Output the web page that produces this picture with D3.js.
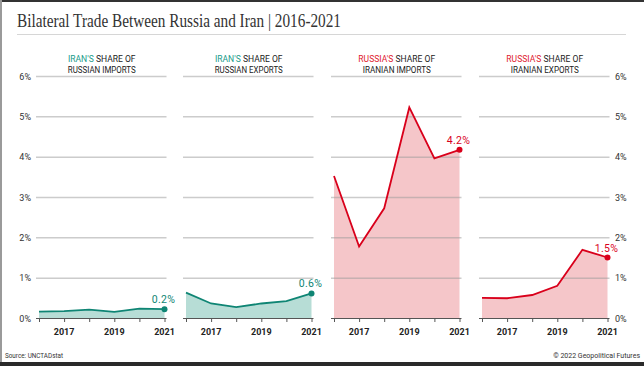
<!DOCTYPE html>
<html><head><meta charset="utf-8">
<script src="https://cdn.jsdelivr.net/npm/d3@7"></script>
<style>
html,body{margin:0;padding:0;background:#fff;}
svg{display:block;}
</style></head>
<body>
<svg id="chart" width="644" height="366"></svg>
<script>
const years = [2016, 2017, 2018, 2019, 2020, 2021];
const yTicks = [0, 1, 2, 3, 4, 5, 6];
const xLabelYears = [2017, 2019, 2021];
const iranShareRussianImports = [0.16, 0.17, 0.21, 0.15, 0.23, 0.22];
const iranShareRussianExports = [0.63, 0.36, 0.27, 0.36, 0.42, 0.61];
const russiaShareIranianImports = [3.52, 1.77, 2.72, 5.22, 3.96, 4.17];
const russiaShareIranianExports = [0.50, 0.49, 0.57, 0.80, 1.69, 1.50];
const panelTitles = [
  ["IRAN'S", " SHARE OF", "RUSSIAN IMPORTS"],
  ["IRAN'S", " SHARE OF", "RUSSIAN EXPORTS"],
  ["RUSSIA'S", " SHARE OF", "IRANIAN IMPORTS"],
  ["RUSSIA'S", " SHARE OF", "IRANIAN EXPORTS"]
];
const endLabels = ["0.2%", "0.6%", "4.2%", "1.5%"];

const teal = {line: "#0f8574", fill: "#b7ddd6", title: "#1a9b8a"};
const red = {line: "#d9001b", fill: "#f5c6c9", title: "#e0202e"};
const panels = [
  {values: iranShareRussianImports, c: teal},
  {values: iranShareRussianExports, c: teal},
  {values: russiaShareIranianImports, c: red},
  {values: russiaShareIranianExports, c: red}
];

const svg = d3.select("#chart");
// frame
svg.append("rect").attr("x",0).attr("y",0).attr("width",644).attr("height",2).attr("fill","#333");
svg.append("rect").attr("x",0).attr("y",0).attr("width",2).attr("height",366).attr("fill","#9a9a9a");
svg.append("rect").attr("x",0).attr("y",362).attr("width",644).attr("height",4).attr("fill","#2a2a2a");

// title
svg.append("text").attr("x",17).attr("y",27)
  .attr("font-family","'Liberation Serif', 'DejaVu Serif', serif")
  .attr("font-size",18).attr("fill","#333")
  .attr("textLength",324).attr("lengthAdjust","spacingAndGlyphs")
  .text("Bilateral Trade Between Russia and Iran | 2016-2021");
svg.append("line").attr("x1",17).attr("x2",626).attr("y1",34.5).attr("y2",34.5)
  .attr("stroke","#d6d6d6").attr("stroke-width",1);

const y = d3.scaleLinear().domain([0,6]).range([318,76]);
const panelX0 = [39, 186, 334, 482];
const step = 25.1;

panels.forEach((p, i) => {
  const x = d3.scaleLinear().domain([2016,2021]).range([panelX0[i], panelX0[i] + 5*step]);
  const g = svg.append("g");
  const data = years.map((yr, k) => ({yr, v: p.values[k]}));

  // area
  g.append("path").datum(data)
    .attr("d", d3.area().x(d=>x(d.yr)).y0(y(0)).y1(d=>y(d.v)))
    .attr("fill", p.c.fill);

  // gridlines (drawn over area)
  g.selectAll(".grid").data(yTicks.filter(t=>t>0)).enter().append("line")
    .attr("x1", x(2016)-3).attr("x2", x(2021)+2)
    .attr("y1", d=>y(d)+0.5).attr("y2", d=>y(d)+0.5)
    .attr("stroke", "#9a9a9a").attr("stroke-opacity",0.5).attr("stroke-width",1.5);

  // line
  g.append("path").datum(data)
    .attr("d", d3.line().x(d=>x(d.yr)).y(d=>y(d.v)))
    .attr("fill","none").attr("stroke", p.c.line).attr("stroke-width",1.8)
    .attr("stroke-linejoin","miter");

  // end point + label
  const last = data[data.length-1];
  g.append("circle").attr("cx", x(last.yr)).attr("cy", y(last.v)).attr("r", 3)
    .attr("fill", p.c.line);
  g.append("text").attr("x", x(last.yr)-1).attr("y", y(last.v)-6)
    .attr("text-anchor","middle")
    .attr("font-family","Roboto, sans-serif").attr("font-size",10.5).attr("letter-spacing",0.3)
    .attr("fill", p.c.line)
    .text(endLabels[i]);

  // x axis
  const axis = d3.axisBottom(x).tickValues(years).tickSize(4).tickFormat("");
  const ag = g.append("g").attr("transform", `translate(0,${y(0)})`).call(axis);
  ag.select(".domain").attr("d", `M${x(2016)-3},0.5H${x(2021)+2}`).attr("stroke","#555").attr("stroke-width",1);
  ag.selectAll(".tick line").attr("stroke","#555");
  g.selectAll(".xl").data(xLabelYears).enter().append("text")
    .attr("x", d=>x(d)).attr("y", 335)
    .attr("text-anchor","middle")
    .attr("font-family","Roboto, sans-serif").attr("font-weight","bold").attr("font-size",9)
    .attr("fill","#222").text(d=>d);

  // panel title
  const cx = (x(2016)+x(2021))/2;
  const t1 = g.append("text").attr("x", cx).attr("y", 62).attr("text-anchor","middle")
    .attr("font-family","Roboto, sans-serif").attr("font-size",9).attr("fill","#222")
    .attr("textLength", panelTitles[i][0].length*4.6 + 40).attr("lengthAdjust","spacingAndGlyphs");
  t1.append("tspan").attr("fill", p.c.title).text(panelTitles[i][0]);
  t1.append("tspan").text(panelTitles[i][1]);
  g.append("text").attr("x", cx).attr("y", 72.5).attr("text-anchor","middle")
    .attr("font-family","Roboto, sans-serif").attr("font-size",9).attr("fill","#222")
    .attr("textLength", 68).attr("lengthAdjust","spacingAndGlyphs")
    .text(panelTitles[i][2]);
});

// y axis labels left and right
const fmt = d => d + "%";
svg.selectAll(".yl").data(yTicks).enter().append("text")
  .attr("x", 31).attr("y", d=>y(d)+3.5).attr("text-anchor","end")
  .attr("font-family","Roboto, sans-serif").attr("font-size",9).attr("fill","#333")
  .text(fmt);
svg.selectAll(".yr").data(yTicks).enter().append("text")
  .attr("x", 615).attr("y", d=>y(d)+3.5).attr("text-anchor","start")
  .attr("font-family","Roboto, sans-serif").attr("font-size",9).attr("fill","#333")
  .text(fmt);

// footer
svg.append("text").attr("x",5).attr("y",358)
  .attr("font-family","Roboto, sans-serif").attr("font-size",7).attr("fill","#333")
  .attr("textLength",58).attr("lengthAdjust","spacingAndGlyphs")
  .text("Source: UNCTADstat");
svg.append("text").attr("x",640).attr("y",358).attr("text-anchor","end")
  .attr("font-family","Roboto, sans-serif").attr("font-size",7).attr("fill","#333")
  .text("© 2022 Geopolitical Futures");
</script>
</body></html>
